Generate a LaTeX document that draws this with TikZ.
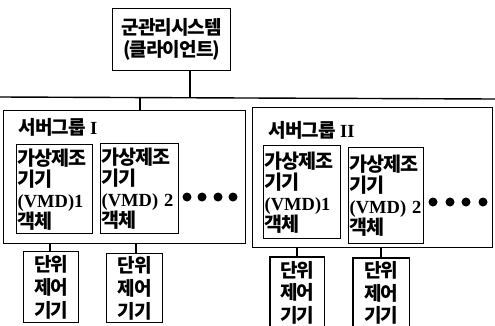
\documentclass[tikz,border=0pt]{standalone}
\usepackage{fontspec}
\setmainfont{Liberation Serif}
\newfontfamily\cjk[Scale=1.12,LetterSpace=-5]{Noto Sans CJK KR}
\newcommand\kr[1]{{\cjk\bfseries #1}}
\newcommand\lt[1]{{\bfseries\fontsize{18.5}{21}\selectfont #1}}
\begin{document}
\begin{tikzpicture}[x=1pt,y=-1pt,line width=1.4pt,
  box/.style={draw, rectangle, anchor=north west, inner sep=0pt},
  toptext/.style={font=\fontsize{17}{22}\selectfont, align=center},
  vmd/.style={box, align=left, inner xsep=1pt, font=\fontsize{17.5}{21}\selectfont},
  unit/.style={box, align=center, font=\fontsize{17}{23}\selectfont},
  unitopen/.style={unit, draw=none, font=\fontsize{17}{22.5}\selectfont},
  glabel/.style={anchor=west, inner sep=0pt, font=\fontsize{17}{20}\selectfont},
  dot/.style={fill=black, draw=none}]
\useasboundingbox (0,0) rectangle (495,325);

% top box
\node[box, toptext, minimum width=118pt, minimum height=62pt] (top) at (112,8)
  {\kr{군관리시스템}\\\kr{(클라이언트)}};

% bus
\coordinate (busL) at (0,97);
\coordinate (busR) at (495,99);
\draw (busL) -- (busR);
\coordinate (b0) at (190,98);
\draw (top.south -| b0) -- (b0);

% groups
\node[box, minimum width=242pt, minimum height=133pt] (g1) at (3,110) {};
\node[box, minimum width=240pt, minimum height=140pt] (g2) at (252,107) {};
\coordinate (b1) at (140,97.5);
\draw (b1) -- (g1.north -| b1);

\node[glabel] (g1l) at (18,127) {\kr{서버그룹} \lt{I}};
\node[glabel] (g2l) at (268,130) {\kr{서버그룹} \lt{II}};

% VMD boxes
\node[vmd, text width=74pt, minimum height=89pt] (v1) at (16,144)
  {\kr{가상제조}\\\kr{기기}\\\lt{(VMD)1}\\\kr{객체}};
\node[vmd, text width=76pt, minimum height=90pt] (v2) at (100,143)
  {\kr{가상제조}\\\kr{기기}\\\lt{\mbox{(VMD) 2}}\\\kr{객체}};
\node[vmd, text width=75pt, minimum height=93pt] (v3) at (263,145)
  {\kr{가상제조}\\\kr{기기}\\\lt{(VMD)1}\\\kr{객체}};
\node[vmd, text width=73pt, minimum height=96pt] (v4) at (348,147)
  {\kr{가상제조}\\\kr{기기}\\\lt{\mbox{(VMD) 2}}\\\kr{객체}};

% dots
\foreach \x in {187,202,218,233} \fill[dot] (\x,197) circle (4.5);
\foreach \x in {433,450,466,483} \fill[dot] (\x,202) circle (4.5);

% unit boxes
\node[unit, minimum width=55pt, minimum height=71pt] (u1) at (23,251)
  {\kr{단위}\\\kr{제어}\\\kr{기기}};
\node[unit, minimum width=56pt, minimum height=69pt] (u2) at (106,253)
  {\kr{단위}\\\kr{제어}\\\kr{기기}};
\node[unitopen, minimum width=53pt, minimum height=70pt] (u3) at (270,257)
  {\kr{단위}\\\kr{제어}\\\kr{기기}};
\node[unitopen, minimum width=55pt, minimum height=69pt] (u4) at (353,258)
  {\kr{단위}\\\kr{제어}\\\kr{기기}};
\coordinate (e3) at (270,330);
\coordinate (e4) at (353,330);
\draw (u3.south west |- e3) -- (u3.north west) -- (u3.north east) -- (u3.south east |- e3);
\draw (u4.south west |- e4) -- (u4.north west) -- (u4.north east) -- (u4.south east |- e4);

% connectors to unit boxes
\coordinate (x1) at (50,0);
\coordinate (x2) at (136,0);
\coordinate (x3) at (297,0);
\coordinate (x4) at (381,0);
\draw (g1.south -| x1) -- (u1.north -| x1);
\draw (g1.south -| x2) -- (u2.north -| x2);
\draw (g2.south -| x3) -- (u3.north -| x3);
\draw (g2.south -| x4) -- (u4.north -| x4);
\end{tikzpicture}
\end{document}
